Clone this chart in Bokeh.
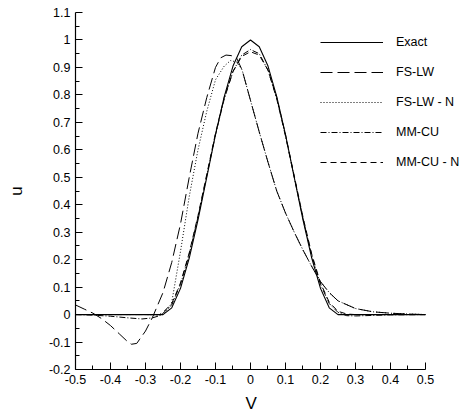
from bokeh.plotting import figure
from bokeh.models import FixedTicker, Legend, LegendItem, Range1d, Title
from bokeh.embed import file_html
from bokeh.resources import INLINE

# ---- data -------------------------------------------------------------
exact_v = [-0.5, -0.25, -0.225, -0.2, -0.175, -0.15, -0.125, -0.1, -0.075, -0.05, -0.025, 0.0,
           0.025, 0.05, 0.075, 0.1, 0.125, 0.15, 0.175, 0.2, 0.225, 0.25, 0.5]
exact_u = [0.0, 0.0, 0.0245, 0.0955, 0.206, 0.345, 0.5, 0.655, 0.794, 0.905, 0.9755, 1.0,
           0.9755, 0.905, 0.794, 0.655, 0.5, 0.345, 0.206, 0.0955, 0.0245, 0.0, 0.0]

fslw_v = [-0.5, -0.475, -0.45, -0.425, -0.4, -0.375, -0.35, -0.34, -0.325, -0.3, -0.28, -0.265,
          -0.25, -0.225, -0.2, -0.175, -0.15, -0.125, -0.1, -0.085, -0.07, -0.055, -0.04, -0.024,
          0.0, 0.025, 0.05, 0.075, 0.1, 0.125, 0.15, 0.175, 0.2, 0.225, 0.25, 0.3, 0.35, 0.4,
          0.45, 0.5]
fslw_u = [0.035, 0.02, 0.005, -0.015, -0.04, -0.07, -0.1, -0.108, -0.105, -0.06, -0.01, 0.035,
          0.08, 0.19, 0.33, 0.5, 0.66, 0.79, 0.9, 0.935, 0.945, 0.943, 0.935, 0.891,
          0.78, 0.665, 0.555, 0.45, 0.37, 0.3, 0.235, 0.175, 0.12, 0.08, 0.05, 0.022, 0.01, 0.005,
          0.002, 0.0]

fslwn_v = [-0.5, -0.3, -0.26, -0.25, -0.235, -0.225, -0.2, -0.175, -0.15, -0.125, -0.1, -0.075,
           -0.057, -0.04, -0.024, 0.0, 0.025, 0.05, 0.075, 0.1, 0.125, 0.15, 0.175, 0.2, 0.225,
           0.25, 0.3, 0.35, 0.4, 0.45, 0.5]
fslwn_u = [0.0, 0.0, -0.002, 0.0, 0.02, 0.045, 0.23, 0.43, 0.6, 0.74, 0.855, 0.905,
           0.925, 0.92, 0.891, 0.78, 0.665, 0.555, 0.45, 0.37, 0.3, 0.235, 0.175, 0.12, 0.08,
           0.05, 0.022, 0.01, 0.005, 0.002, 0.0]

mmcu_v = [-0.5, -0.45, -0.4, -0.35, -0.31, -0.28, -0.26, -0.25, -0.225, -0.2, -0.175, -0.15,
          -0.125, -0.1, -0.075, -0.05, -0.025, 0.0, 0.025, 0.05, 0.075, 0.1, 0.125, 0.15, 0.175,
          0.2, 0.225, 0.25, 0.275, 0.3, 0.35, 0.4, 0.5]
mmcu_u = [0.0, -0.002, -0.006, -0.012, -0.016, -0.012, -0.004, 0.005, 0.035, 0.11, 0.22, 0.355,
          0.505, 0.655, 0.785, 0.885, 0.945, 0.965, 0.95, 0.89, 0.785, 0.65, 0.5, 0.35, 0.215,
          0.11, 0.04, 0.008, -0.004, -0.005, -0.003, -0.001, 0.0]

mmcun_v = [-0.5, -0.3, -0.26, -0.25, -0.225, -0.2, -0.175, -0.15, -0.125, -0.1, -0.075, -0.05,
           -0.025, 0.0, 0.025, 0.05, 0.075, 0.1, 0.125, 0.15, 0.175, 0.2, 0.225, 0.25, 0.275,
           0.3, 0.5]
mmcun_u = [0.0, 0.0, 0.0, 0.008, 0.04, 0.115, 0.225, 0.36, 0.51, 0.66, 0.79, 0.885,
           0.94, 0.957, 0.945, 0.89, 0.79, 0.655, 0.505, 0.355, 0.22, 0.115, 0.045, 0.012, 0.002,
           0.0, 0.0]

x_ticks = [-0.5, -0.4, -0.3, -0.2, -0.1, 0.0, 0.1, 0.2, 0.3, 0.4, 0.5]
x_minor = [-0.45, -0.35, -0.25, -0.15, -0.05, 0.05, 0.15, 0.25, 0.35, 0.45]
y_ticks = [-0.2, -0.1, 0.0, 0.1, 0.2, 0.3, 0.4, 0.5, 0.6, 0.7, 0.8, 0.9, 1.0, 1.1]
y_minor = [-0.15, -0.05, 0.05, 0.15, 0.25, 0.35, 0.45, 0.55, 0.65, 0.75, 0.85, 0.95, 1.05]

# ---- figure -----------------------------------------------------------
FONT = "Liberation Sans"

# the frame runs past v = 0.5 so the legend has room; the x axis stops at 0.5
p = figure(width=468, height=418, output_backend="svg", toolbar_location=None,
           x_range=Range1d(-0.5, 0.6229), y_range=Range1d(-0.2, 1.1),
           min_border_left=75, min_border_right=0, min_border_top=12, min_border_bottom=0)
p.outline_line_color = None
p.xgrid.visible = False
p.ygrid.visible = False
p.background_fill_color = "white"
p.border_fill_color = "white"

def style_axis(ax, ticks, minor):
    ax.ticker = FixedTicker(ticks=ticks, minor_ticks=minor)
    ax.major_label_overrides = {t: f"{t:g}" for t in ticks}
    ax.bounds = (ticks[0], ticks[-1])
    ax.axis_label_text_font = FONT
    ax.axis_label_text_font_size = "17px"
    ax.axis_label_text_font_style = "normal"
    ax.axis_label_text_color = "black"
    ax.major_label_text_font = FONT
    ax.major_label_text_font_size = "12.5px"
    ax.major_label_text_color = "black"
    ax.axis_line_color = "black"
    ax.axis_line_width = 1.2
    ax.major_tick_line_color = "black"
    ax.minor_tick_line_color = "black"
    ax.major_tick_in = 7
    ax.major_tick_out = 0
    ax.minor_tick_in = 4
    ax.minor_tick_out = 0
    ax.major_label_standoff = 5

style_axis(p.xaxis[0], x_ticks, x_minor)
style_axis(p.yaxis[0], y_ticks, y_minor)
p.yaxis[0].axis_label = "u"
p.yaxis[0].axis_label_standoff = 20

# x label placed under v = 0 (the frame is wider than the axis), offset from frame left
x_title = Title(text="V", align="left", offset=170, standoff=11,
                text_font=FONT, text_font_size="17px", text_font_style="normal",
                text_color="black")
p.add_layout(x_title, "below")

r_exact = p.line(exact_v, exact_u, line_color="black", line_width=1.1)
r_fslw = p.line(fslw_v, fslw_u, line_color="black", line_width=1.0, line_dash="12 5")
r_fslwn = p.line(fslwn_v, fslwn_u, line_color="black", line_width=1.0, line_dash="1 2")
r_mmcu = p.line(mmcu_v, mmcu_u, line_color="black", line_width=1.0, line_dash="6 2 1 2")
r_mmcun = p.line(mmcun_v, mmcun_u, line_color="black", line_width=1.0, line_dash="6 4")

legend = Legend(items=[
    LegendItem(label="Exact", renderers=[r_exact]),
    LegendItem(label="FS-LW", renderers=[r_fslw]),
    LegendItem(label="FS-LW - N", renderers=[r_fslwn]),
    LegendItem(label="MM-CU", renderers=[r_mmcu]),
    LegendItem(label="MM-CU - N", renderers=[r_mmcun]),
], location=(245, 197))
legend.border_line_color = None
legend.background_fill_alpha = 0
legend.padding = 0
legend.margin = 0
legend.spacing = 10
legend.glyph_width = 63
legend.glyph_height = 20
legend.label_height = 20
legend.label_standoff = 13
legend.label_text_font = FONT
legend.label_text_font_size = "12.5px"
legend.label_text_color = "black"
p.add_layout(legend, "center")

open("out.html", "w").write(file_html(p, INLINE))
